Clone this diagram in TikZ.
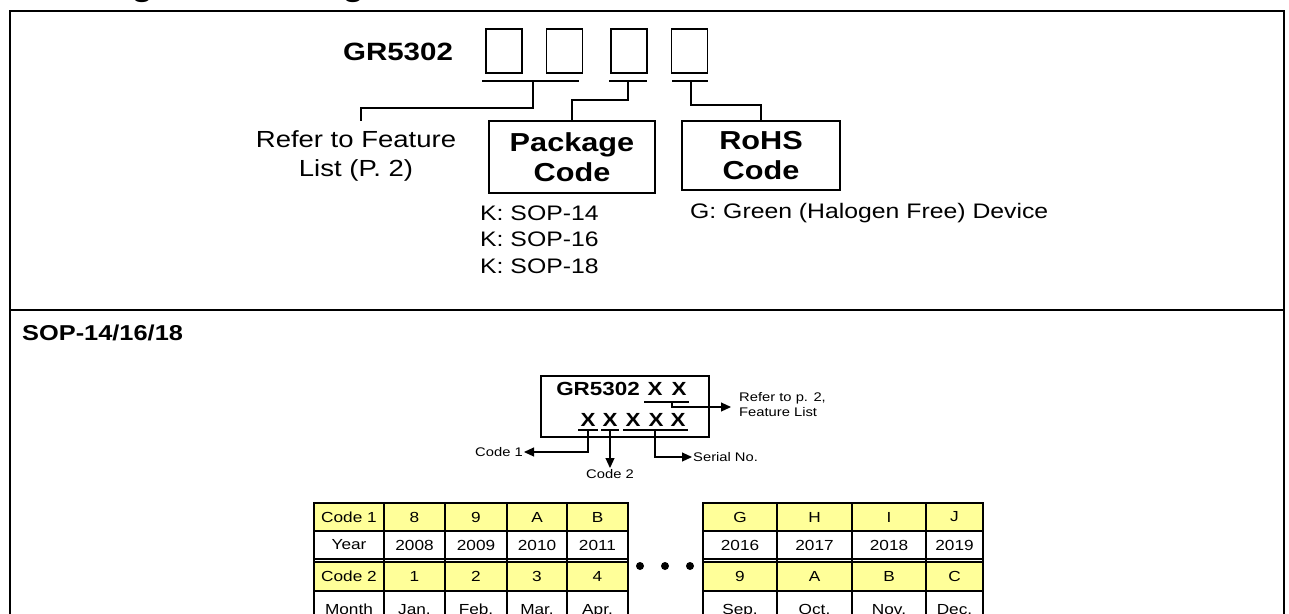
\documentclass[tikz,border=0pt]{standalone}
\usepackage{fontspec}
\setmainfont{Liberation Sans}[FakeStretch=1.18]
\usetikzlibrary{arrows.meta}
\definecolor{cellyellow}{RGB}{255,255,153}
\begin{document}
\begin{tikzpicture}[x=1pt,y=-1pt,
  frame/.style={line width=2pt},
  thinline/.style={line width=1.3pt},
  uline/.style={line width=1.8pt},
  tip/.style={line width=1.1pt,-{Triangle[length=10pt,width=9pt]}},
  tx/.style={inner sep=0pt},
  titlefont/.style={font=\fontsize{29}{34}\selectfont\bfseries},
  codefont/.style={font=\fontsize{25}{30}\selectfont\bfseries},
  boxfont/.style={font=\fontsize{26}{30}\selectfont\bfseries},
  referfont/.style={font=\fontsize{23.3}{29}\selectfont},
  listfont/.style={font=\fontsize{21}{26.5}\selectfont},
  secfont/.style={font=\fontsize{21.5}{25}\selectfont\bfseries},
  markfont/.style={font=\fontsize{19}{22}\selectfont\bfseries},
  smallfont/.style={font=\fontsize{12.5}{15.5}\selectfont},
  cellfont/.style={font=\fontsize{14.6}{17}\selectfont},
  dot/.style={circle,fill=black,inner sep=0pt,minimum size=8pt}]
\useasboundingbox (0,0) rectangle (1289,613);
\begin{scope}
\clip (0,0) rectangle (1289,613);
% title (cut off at the top)
\node[tx,titlefont,anchor=base west] (title) at (8,-3) {Ordering and Marking Information};
% outer frame
\draw[frame] (10,640) -- (10,10.5) -- (1283.5,10.5) -- (1283.5,640);
\draw[frame] (10,310) -- (1283.5,310);

% ---------------- top section ----------------
\node[tx,codefont] (gr) at (398,52) {GR5302};
\node[draw,thinline,minimum width=36pt,minimum height=44pt] (b1) at (504,51) {};
\node[draw,thinline,minimum width=36pt,minimum height=44pt] (b2) at (564.5,51) {};
\node[draw,thinline,minimum width=36pt,minimum height=44pt] (b3) at (629,51) {};
\node[draw,thinline,minimum width=36pt,minimum height=44pt] (b4) at (689.5,51) {};
\draw[thinline] (482,81) -- (579,81);
\draw[thinline] (609,81) -- (647,81);
\draw[thinline] (672,81) -- (708,81);
\coordinate (u1) at (533,81);
\coordinate (u2) at (628,81);
\coordinate (u3) at (691,81);

\node[tx,referfont,align=center] (refer) at (356,156) {Refer to Feature\\List (P. 2)};
\coordinate (referin) at (361,121);
\draw[thinline] (u1) -- (533,108) -| (referin);

\node[draw,thinline,boxfont,align=center,minimum width=166pt,minimum height=72pt] (pkg) at (572,157) {Package\\Code};
\draw[thinline] (u2) -- (628,100) -| (pkg.north);

\node[draw,thinline,boxfont,align=center,minimum width=158pt,minimum height=69pt] (rohs) at (761,155.5) {RoHS\\Code};
\draw[thinline] (u3) -- (691,105) -| (rohs.north);

\node[tx,listfont,align=left,anchor=west] (klist) at (480,239.5) {K: SOP-14\\K: SOP-16\\K: SOP-18};
\node[tx,listfont,anchor=west] (green) at (690,213) {G: Green (Halogen Free) Device};

% ---------------- bottom section ----------------
\node[tx,secfont,anchor=west] (sop) at (22,333) {SOP-14/16/18};

\node[draw,thinline,minimum width=168pt,minimum height=61pt] (mbox) at (625,406.5) {};
\node[tx,markfont] (mgr) at (598,389) {GR5302};
\node[tx,markfont] (xa) at (655,389) {X};
\node[tx,markfont] (xb) at (679,389) {X};
\draw[uline] (644,402) -- (689,402);
\foreach \xx [count=\i] in {588,610,633,656,678}
  \node[tx,markfont] (y\i) at (\xx,420) {X};
\draw[uline] (578,430) -- (598,430);
\draw[uline] (601,430) -- (619,430);
\draw[uline] (623,430) -- (688,430);
\coordinate (ua) at (672,402);
\coordinate (ub) at (588,430);
\coordinate (uc) at (610,430);
\coordinate (ud) at (655,430);

\node[tx,smallfont,align=left,anchor=west] (refp) at (739,404.5) {Refer to p. 2,\\Feature List};
\coordinate (refpin) at (731,407);
\draw[tip] (ua) -- (672,407) -- (refpin);

\node[inner sep=1pt,smallfont,anchor=east] (code1) at (524,452) {Code 1};
\draw[tip] (ub) |- (code1.east);

\node[inner sep=1pt,smallfont,anchor=north] (code2) at (610,468) {Code 2};
\draw[tip] (uc) -- (code2.north);

\node[inner sep=1pt,smallfont,anchor=west] (serial) at (692,457) {Serial No.};
\draw[tip] (ud) |- (serial.west);

% ---------------- tables ----------------
\fill[cellyellow] (314,503) rectangle (628,531);
\fill[cellyellow] (314,562) rectangle (628,591);
\fill[cellyellow] (703,503) rectangle (983,531);
\fill[cellyellow] (703,562) rectangle (983,591);
\foreach \yy in {503,531,591} {
  \draw[frame] (314,\yy) -- (628,\yy);
  \draw[frame] (703,\yy) -- (983,\yy);
}
\foreach \yy in {559,562} {
  \draw[thinline] (314,\yy) -- (628,\yy);
  \draw[thinline] (703,\yy) -- (983,\yy);
}
\foreach \xx in {314,384,445,507,567,628}
  \draw[frame] (\xx,502) -- (\xx,640);
\foreach \xx in {703,777,852,926,983}
  \draw[frame] (\xx,502) -- (\xx,640);

\foreach \cx/\ra/\rb/\rc/\rd [count=\i] in
  {349/Code 1/Year/Code 2/Month, 414.5/8/2008/1/Jan., 476/9/2009/2/Feb., 537/A/2010/3/Mar., 597.5/B/2011/4/Apr.} {
  \node[tx,cellfont] (la\i) at (\cx,517) {\ra};
  \node[tx,cellfont] (lb\i) at (\cx,545) {\rb};
  \node[tx,cellfont] (lc\i) at (\cx,576.5) {\rc};
  \node[tx,cellfont,anchor=base] (ld\i) at (\cx,614) {\rd};
}
\foreach \cx/\ra/\rb/\rc/\rd [count=\i] in
  {740/G/2016/9/Sep., 814.5/H/2017/A/Oct., 889/I/2018/B/Nov., 954.5/J/2019/C/Dec.} {
  \node[tx,cellfont] (ra\i) at (\cx,517) {\ra};
  \node[tx,cellfont] (rb\i) at (\cx,545) {\rb};
  \node[tx,cellfont] (rc\i) at (\cx,576.5) {\rc};
  \node[tx,cellfont,anchor=base] (rd\i) at (\cx,614) {\rd};
}
\node[dot] (d1) at (640,566) {};
\node[dot] (d2) at (665,566) {};
\node[dot] (d3) at (690,566) {};
\end{scope}
\end{tikzpicture}
\end{document}
